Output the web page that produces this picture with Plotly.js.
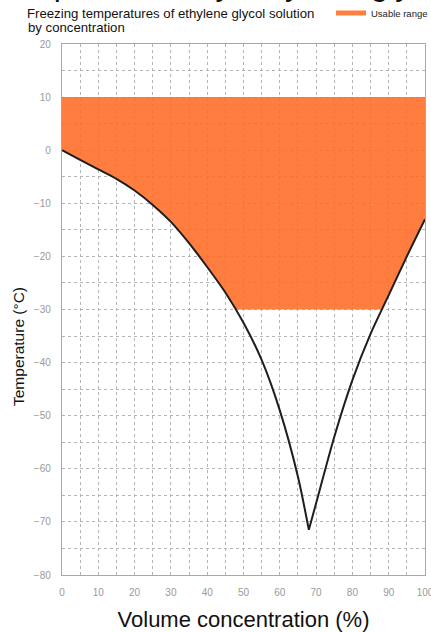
<!DOCTYPE html>
<html>
<head>
<meta charset="utf-8">
<script src="https://cdn.plot.ly/plotly-3.0.1.min.js"></script>
<style>html,body{margin:0;padding:0;background:#fff;}#chart{width:431px;height:632px;}</style>
</head>
<body>
<div id="chart"></div>
<script>
// Data
const concentration = [0, 5, 10, 15, 20, 25, 30, 35, 40, 45, 50, 55, 60, 65, 68, 70, 75, 80, 85, 90, 95, 100];
const freezingPoint = [0, -1.8, -3.6, -5.4, -7.6, -10.3, -13.5, -17.5, -22, -26.8, -32.5, -39.5, -49, -61.5, -71.5, -66.5, -54, -43.3, -34.6, -27.3, -20, -13];
const usableTop = 10;      // upper limit of usable range (°C)
const usableBottom = -30;  // lower limit of usable range (°C)
const xTickVals = [0, 10, 20, 30, 40, 50, 60, 70, 80, 90, 100];
const yTickVals = [20, 10, 0, -10, -20, -30, -40, -50, -60, -70, -80];

// Lower edge of usable range: max(curve, usableBottom)
const envX = [], envY = [];
for (let i = 0; i < concentration.length; i++) {
  const x0 = concentration[i], y0 = freezingPoint[i];
  if (i > 0) {
    const xp = concentration[i-1], yp = freezingPoint[i-1];
    if ((yp - usableBottom) * (y0 - usableBottom) < 0) {
      const t = (usableBottom - yp) / (y0 - yp);
      envX.push(xp + t * (x0 - xp)); envY.push(usableBottom);
    }
  }
  envX.push(x0); envY.push(Math.max(y0, usableBottom));
}

// split curve at its minimum (eutectic point) so the vertex stays sharp
let iMin = 0;
freezingPoint.forEach((v, i) => { if (v < freezingPoint[iMin]) iMin = i; });
const leftX = concentration.slice(0, iMin + 1), leftY = freezingPoint.slice(0, iMin + 1);
const rightX = concentration.slice(iMin), rightY = freezingPoint.slice(iMin);

const orange = 'rgba(255,108,36,0.88)';
const curveLine = {color: '#1e1e1e', width: 2, shape: 'spline', smoothing: 0.8};
const traces = [
  {x: [concentration[0], concentration[concentration.length-1]], y: [usableTop, usableTop],
   mode: 'lines', line: {width: 0, color: orange}, showlegend: false, hoverinfo: 'skip'},
  {x: envX, y: envY, mode: 'lines', fill: 'tonexty', fillcolor: orange,
   line: {width: 0, color: orange}, showlegend: false, hoverinfo: 'skip'},
  {x: leftX, y: leftY, mode: 'lines', line: curveLine, showlegend: false},
  {x: rightX, y: rightY, mode: 'lines', line: curveLine, showlegend: false},
  {x: [null], y: [null], mode: 'lines', name: 'Usable range',
   line: {color: '#ff7f40', width: 5}, showlegend: true}
];

const gridColor = '#b4b4b4';
const axisCommon = {
  ticks: '', showline: true, mirror: true, linecolor: '#a8a8a8', linewidth: 1.2,
  showgrid: true, gridcolor: gridColor, gridwidth: 1, griddash: 'dot',
  minor: {dtick: 5, showgrid: true, gridcolor: gridColor, gridwidth: 1, griddash: 'dot'},
  tickfont: {size: 10, color: '#999'}, ticklabelstandoff: 8, zeroline: false, fixedrange: true,
  ticklabeloverflow: 'allow'
};
const layout = {
  width: 431, height: 632,
  margin: {l: 62, r: 6, t: 44, b: 57, autoexpand: false},
  paper_bgcolor: '#fff', plot_bgcolor: '#fff',
  font: {family: 'Liberation Sans, Arial, sans-serif', color: '#000'},
  title: {
    text: 'Freezing temperatures of ethylene glycol solution',
    font: {size: 13.2, color: '#111', family: 'Liberation Sans, Arial, sans-serif'},
    x: 27/431, xanchor: 'left', xref: 'container',
    y: 1 - 13/632, yanchor: 'middle', yref: 'container'
  },
  showlegend: true,
  legend: {
    xref: 'container', yref: 'container',
    x: 331/431, xanchor: 'left', y: 1 - 13/632, yanchor: 'middle',
    font: {size: 9.5, color: '#222', family: 'Liberation Sans Narrow, Liberation Sans, Arial, sans-serif'},
    itemwidth: 30, bgcolor: 'rgba(0,0,0,0)', borderwidth: 0
  },
  xaxis: Object.assign({}, axisCommon, {
    range: [0, 100], tickvals: xTickVals,
    title: {text: 'Volume concentration (%)', font: {size: 22, color: '#111'}, standoff: 18}
  }),
  yaxis: Object.assign({}, axisCommon, {
    range: [-80, 20], tickvals: yTickVals,
    title: {text: ''}
  }),
  annotations: [
    {text: 'by concentration', xref: 'paper', yref: 'paper',
     x: (26 - 62) / 363, y: (575 - 28) / 531, xanchor: 'left', yanchor: 'middle',
     showarrow: false, font: {size: 13.2, color: '#111'}},
    {text: 'Temperature (°C)', xref: 'paper', yref: 'paper',
     x: (18 - 62) / 363, y: (575 - 347) / 531, xanchor: 'center', yanchor: 'middle',
     textangle: -90, showarrow: false, font: {size: 15.5, color: '#111'}},
    {text: 'Freezing temperatures by ethylene glycol', xref: 'paper', yref: 'paper',
     x: (454 - 62) / 363, y: 1 + (44 - 4) / 531, xanchor: 'right', yanchor: 'bottom', showarrow: false,
     font: {size: 32, color: '#111'}}
  ]
};

Plotly.newPlot('chart', traces, layout, {displayModeBar: false, staticPlot: true});
</script>
</body>
</html>
